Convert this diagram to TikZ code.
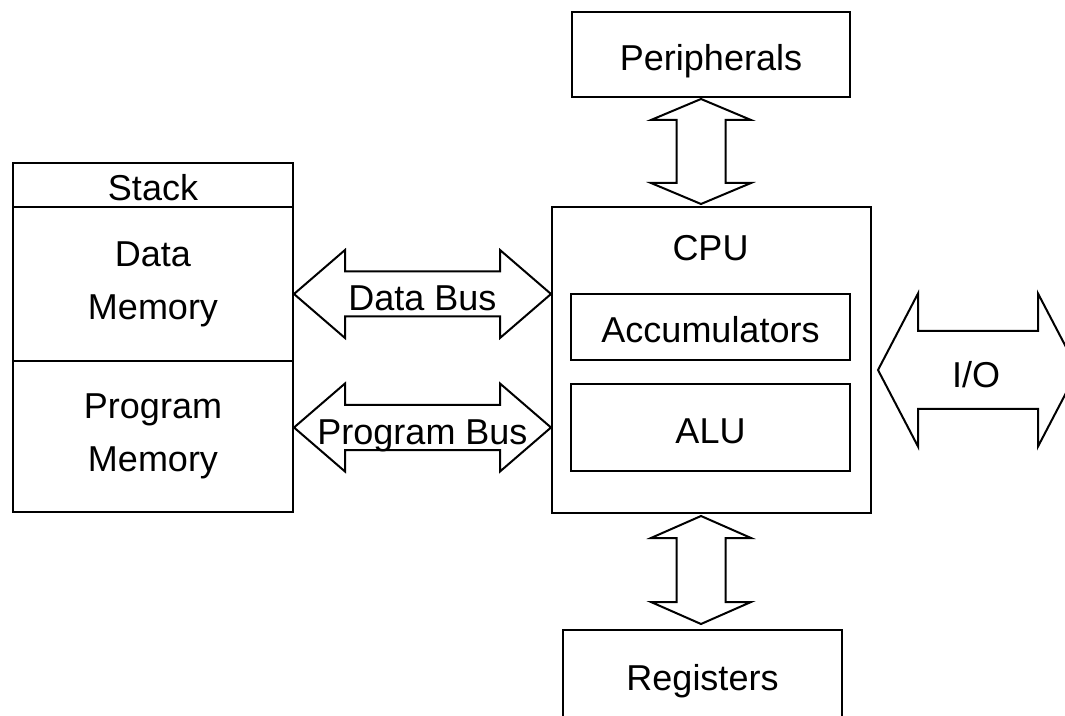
\documentclass[tikz,border=0pt]{standalone}
\usepackage{fontspec}
\setmainfont{Liberation Sans}
\usetikzlibrary{positioning, calc}

\tikzset{
  box/.style={draw, line width=1pt, inner sep=0pt},
  onerow/.style={box, text height=16pt, text depth=0pt},
  bus/.style={draw, line width=1pt, line join=miter},
  buslbl/.style={anchor=base, inner sep=0pt},
}

% horizontal block arrow: tips #1,#2; head length #3, head half width #4, shaft half width #5
\newcommand{\hbus}[5]{%
  \draw[bus] (#1) -- ++(#3,-#4) -- ++(0,#4-#5) -- ($(#2)+(-#3,-#5)$) -- ++(0,#5-#4)
    -- (#2) -- ++(-#3,#4) -- ++(0,#5-#4) -- ($(#1)+(#3,#5)$) -- ++(0,#4-#5) -- cycle;}
% vertical block arrow: tips #1 (top), #2 (bottom)
\newcommand{\vbus}[5]{%
  \draw[bus] (#1) -- ++(#4,#3) -- ++(#5-#4,0) -- ($(#2)+(#5,-#3)$) -- ++(#4-#5,0)
    -- (#2) -- ++(-#4,-#3) -- ++(#4-#5,0) -- ($(#1)+(-#5,#3)$) -- ++(#5-#4,0) -- cycle;}

\begin{document}
\begin{tikzpicture}[x=0.5pt, y=-0.5pt, font=\fontsize{18pt}{26.5pt}\selectfont]
  \useasboundingbox (0,0) rectangle (1065,716);
  \clip (0,0) rectangle (1065,716);
  % Memory column
  \node[onerow, minimum width=140pt, minimum height=22pt] (stack) at (153,185) {Stack};
  \node[box, align=center, minimum width=140pt, minimum height=77pt, below=-1pt of stack] (datamem) {Data\\Memory};
  \node[box, align=center, minimum width=140pt, minimum height=75.5pt, below=-1pt of datamem] (progmem) {Program\\Memory};
  % CPU
  \node[box, minimum width=159.5pt, minimum height=153pt] (cpu) at (711.5,360) {};
  \node[anchor=base, inner sep=0pt] (cpulbl) at ($(cpu.north)+(-1,55)$) {CPU};
  \node[onerow, minimum width=139.5pt, minimum height=33pt] (acc) at (710.5,327) {Accumulators};
  \node[onerow, minimum width=139.5pt, minimum height=43.5pt, below=11pt of acc] (alu) {ALU};
  % Peripherals and registers
  \node[onerow, minimum width=139pt, minimum height=42.5pt] (periph) at (711,54.5) {Peripherals};
  \node[onerow, minimum width=139.5pt, minimum height=44pt] (regs) at (702.5,674) {Registers};
  % Buses
  \coordinate (dbl) at ([yshift=-5pt]datamem.east);
  \coordinate (dbr) at (dbl -| cpu.west);
  \hbus{dbl}{dbr}{51}{44}{22.5}
  \node[buslbl] (dblbl) at ($(dbl)!.5!(dbr)+(0,17)$) {Data Bus};
  \coordinate (pbl) at (progmem.east |- alu.center);
  \coordinate (pbr) at (pbl -| cpu.west);
  \hbus{pbl}{pbr}{51}{44}{22.5}
  \node[buslbl] (pblbl) at ($(pbl)!.5!(pbr)+(0,17)$) {Program Bus};
  % Peripherals <-> CPU
  \coordinate (pt) at ([xshift=-5pt,yshift=-0.5pt]periph.south);
  \coordinate (pb) at ([yshift=1pt]pt |- cpu.north);
  \vbus{pt}{pb}{21}{50}{24.5}
  % CPU <-> Registers
  \coordinate (rt) at ([yshift=-1pt]pt |- cpu.south);
  \coordinate (rb) at ([yshift=2.5pt]pt |- regs.north);
  \vbus{rt}{rb}{22}{50}{24.5}
  % I/O
  \coordinate (iol) at ([xshift=3pt,yshift=-5pt]cpu.east);
  \coordinate (ior) at ([xshift=100pt]iol);
  \hbus{iol}{ior}{40}{76.5}{39}
  \node[buslbl] (iolbl) at ($(iol)!.5!(ior)+(-2,18)$) {I/O};
\end{tikzpicture}
\end{document}
